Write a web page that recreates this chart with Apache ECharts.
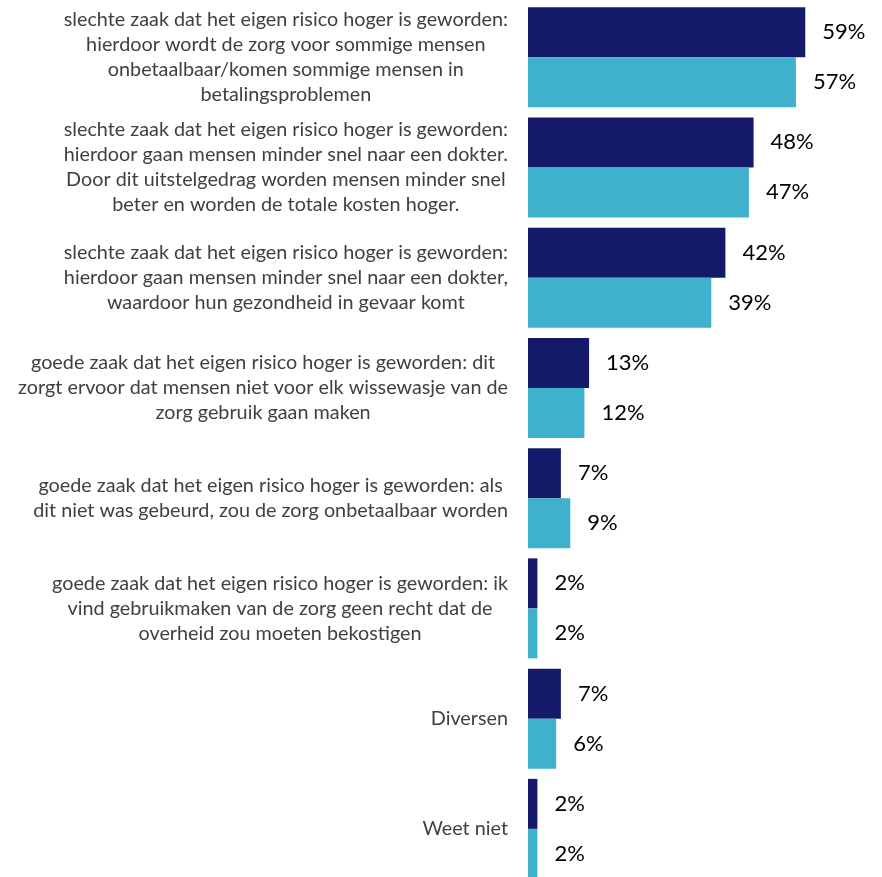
<!DOCTYPE html>
<html>
<head>
<meta charset="utf-8">
<script src="https://cdn.jsdelivr.net/npm/echarts@6/dist/echarts.min.js"></script>
<style>html,body{margin:0;padding:0;background:#fff}#c{width:882px;height:877px}</style>
</head>
<body>
<div id="c"></div>
<script>
const categories = [
  "slechte zaak dat het eigen risico hoger is geworden:\nhierdoor wordt de zorg voor sommige mensen\nonbetaalbaar/komen sommige mensen in\nbetalingsproblemen",
  "slechte zaak dat het eigen risico hoger is geworden:\nhierdoor gaan mensen minder snel naar een dokter.\nDoor dit uitstelgedrag worden mensen minder snel\nbeter en worden de totale kosten hoger.",
  "slechte zaak dat het eigen risico hoger is geworden:\nhierdoor gaan mensen minder snel naar een dokter,\nwaardoor hun gezondheid in gevaar komt",
  "goede zaak dat het eigen risico hoger is geworden: dit\nzorgt ervoor dat mensen niet voor elk wissewasje van de\nzorg gebruik gaan maken",
  "goede zaak dat het eigen risico hoger is geworden: als\ndit niet was gebeurd, zou de zorg onbetaalbaar worden",
  "goede zaak dat het eigen risico hoger is geworden: ik\nvind gebruikmaken van de zorg geen recht dat de\noverheid zou moeten bekostigen",
  "Diversen",
  "Weet niet"
];
const seriesA = [59, 48, 42, 13, 7, 2, 7, 2];
const seriesB = [57, 47, 39, 12, 9, 2, 6, 2];

const chart = echarts.init(document.getElementById('c'));
const lbl = {show: true, position: 'right', distance: 17, formatter: '{c}%', fontSize: 22, color: '#000', fontFamily: 'Lato'};
chart.setOption({
  animation: false,
  grid: {left: 528, right: 25, top: 2, height: 882, containLabel: false, outerBoundsMode: 'none'},
  xAxis: {type: 'value', min: 0, max: 70, show: false},
  yAxis: {
    type: 'category', data: categories, inverse: true,
    axisLine: {show: false}, axisTick: {show: false}, splitLine: {show: false},
    axisLabel: {
      margin: 20, align: 'right', interval: 0,
      formatter: function (v) {
        return v.split('\n').map(function (s) { return '{c|' + s + '}'; }).join('\n');
      },
      rich: {c: {align: 'center', fontSize: 19.8, lineHeight: 25, color: '#404040', fontFamily: 'Lato'}}
    }
  },
  series: [
    {type: 'bar', data: seriesA, barWidth: 50, barGap: '0%', itemStyle: {color: '#141a69'}, label: lbl},
    {type: 'bar', data: seriesB, barWidth: 50, barGap: '0%', itemStyle: {color: '#40b1cd'}, label: lbl}
  ]
});
</script>
</body>
</html>
